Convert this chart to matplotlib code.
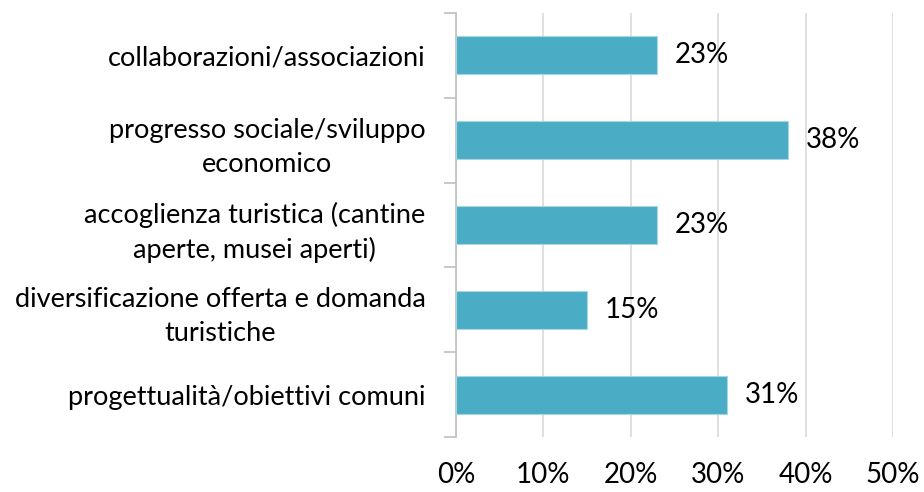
import matplotlib.pyplot as plt
import numpy as np

categories = [
    "collaborazioni/associazioni",
    "progresso sociale/sviluppo\neconomico",
    "accoglienza turistica (cantine\naperte, musei aperti)",
    "diversificazione offerta e domanda\nturistiche",
    "progettualità/obiettivi comuni",
]
values = [23, 38, 23, 15, 31]
xticks = [0, 10, 20, 30, 40, 50]

plt.rcParams['font.family'] = ['Lato', 'DejaVu Sans']

fig = plt.figure(figsize=(9.24, 4.92), dpi=100)
ax = fig.add_axes([456 / 924, 1 - 437 / 492, (893 - 456) / 924, (437 - 13) / 492])

y = np.arange(len(categories))
ax.barh(y, values, height=0.45, color='#4BACC6', edgecolor='#A9D6E3', linewidth=0.8, zorder=3)
for yi, v in zip(y, values):
    ax.text(v + 2.0, yi, f"{v}%", va='center', ha='left', fontsize=20, color='#000000')

ax.set_xlim(0, 50)
ax.set_ylim(len(categories) - 0.5, -0.5)
ax.set_xticks(xticks)
ax.set_xticklabels([f"{t}%" for t in xticks], fontsize=20)
ax.tick_params(axis='x', length=0, pad=18)
ax.grid(axis='x', color='#D9D9D9', linewidth=1.2, zorder=0)

# category labels centred on bars, ticks between categories
ax.set_yticks(y)
ax.set_yticklabels(categories, fontsize=19.5, multialignment='center', linespacing=1.45)
ax.tick_params(axis='y', length=0, pad=22)
ax.set_yticks(np.arange(-0.5, len(categories), 1), minor=True)
ax.tick_params(axis='y', which='minor', length=9, color='#BFBFBF', width=1.2)

for s in ['top', 'right', 'bottom']:
    ax.spines[s].set_visible(False)
ax.spines['left'].set_color('#BFBFBF')
ax.spines['left'].set_linewidth(1.2)

fig.savefig('out.png', dpi=100)
